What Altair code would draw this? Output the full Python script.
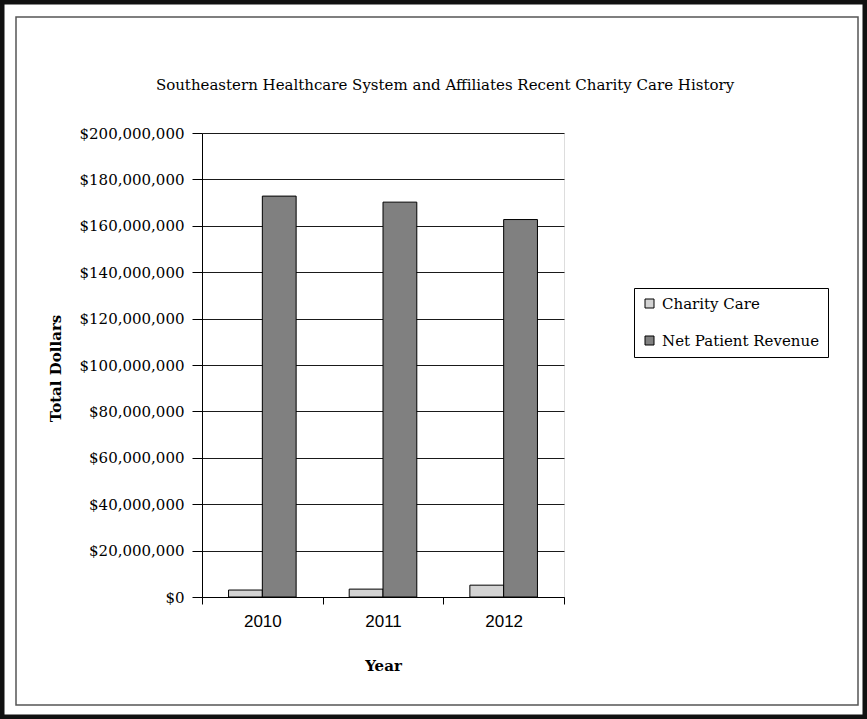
import altair as alt
import pandas as pd

years = ["2010", "2011", "2012"]
series = ["Charity Care", "Net Patient Revenue"]
charity_care = [3000000, 3400000, 5100000]
net_patient_revenue = [172800000, 170200000, 162700000]
y_ticks = [0, 20000000, 40000000, 60000000, 80000000, 100000000,
           120000000, 140000000, 160000000, 180000000, 200000000]
series_colors = ["#d3d3d3", "#808080"]
chart_title = "Southeastern Healthcare System and Affiliates Recent Charity Care History"

rows = []
for i, yr in enumerate(years):
    rows.append({"Year": yr, "Series": series[0], "Value": charity_care[i]})
    rows.append({"Year": yr, "Series": series[1], "Value": net_patient_revenue[i]})
df = pd.DataFrame(rows)

W, H = 362, 464
L, T = 202, 133
SERIF = "DejaVu Serif"

bars = alt.Chart(df).mark_bar(stroke="black", strokeWidth=1).encode(
    x=alt.X(
        "Year:N", sort=years,
        scale=alt.Scale(paddingInner=0, paddingOuter=0),
        axis=alt.Axis(
            title="Year", labelAngle=0, tickBand="extent", ticks=True, tickSize=7,
            tickColor="black", domainColor="black", grid=False,
            labelFont="Liberation Sans", labelFontSize=17, labelColor="black",
            labelPadding=9,
            titleFont=SERIF, titleFontSize=15, titleFontWeight="bold", titleColor="black",
            titleY=68, titleBaseline="middle",
        ),
    ),
    xOffset=alt.XOffset("Series:N", sort=series,
                        scale=alt.Scale(paddingInner=0, paddingOuter=0.785)),
    y=alt.Y(
        "Value:Q",
        scale=alt.Scale(domain=[0, 200000000], nice=False),
        axis=alt.Axis(
            values=y_ticks, format="$,.0f", title="Total Dollars",
            grid=True, gridColor="#1a1a1a", gridWidth=1,
            domainColor="black", tickColor="black", tickSize=10,
            labelFont=SERIF, labelFontSize=15, labelColor="black", labelPadding=8,
            titleFont=SERIF, titleFontSize=15, titleFontWeight="bold", titleColor="black",
            titleAngle=-90, titleX=-147, titleY=235, titleAlign="center",
            titleBaseline="middle",
        ),
    ),
    color=alt.Color(
        "Series:N",
        scale=alt.Scale(domain=series, range=series_colors),
        legend=alt.Legend(
            title=None, orient="none", legendX=432, legendY=155,
            strokeColor="black", padding=8, symbolType="square", symbolSize=81,
            symbolStrokeColor="black", symbolStrokeWidth=1,
            labelFont=SERIF, labelFontSize=15, labelColor="black", labelOffset=5,
            rowPadding=21,
        ),
    ),
)

frame_data = alt.Data(values=[{"frame": 1}])
outer = alt.Chart(frame_data).mark_rect(
    fillOpacity=0, stroke="#111111", strokeWidth=5
).encode(
    x=alt.value(-L + 2), x2=alt.value(867 - L - 2),
    y=alt.value(-T + 2), y2=alt.value(719 - T - 2),
)
inner = alt.Chart(frame_data).mark_rect(
    fillOpacity=0, stroke="#555555", strokeWidth=1.5
).encode(
    x=alt.value(16 - L), x2=alt.value(858 - L),
    y=alt.value(17 - T), y2=alt.value(705 - T),
)
title_text = alt.Chart(frame_data).mark_text(
    font=SERIF, fontSize=15, color="black", align="center", baseline="middle"
).encode(
    text=alt.value(chart_title),
    x=alt.value(445 - L), y=alt.value(85 - T),
)

chart = alt.layer(bars, inner, outer, title_text).properties(
    width=W, height=H,
    autosize=alt.AutoSizeParams(type="none"),
    padding={"left": L, "top": T, "right": 867 - L - W, "bottom": 719 - T - H},
).configure_view(stroke="black", strokeWidth=1).configure(background="white")

chart.save("out.html", embed_options={"renderer": "svg", "actions": False})
